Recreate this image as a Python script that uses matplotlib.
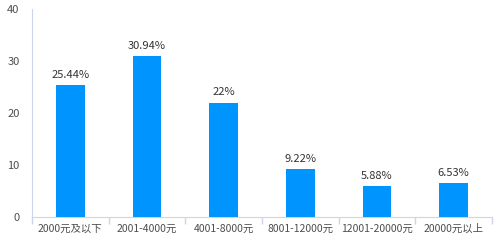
import matplotlib
matplotlib.use('Agg')
import matplotlib.pyplot as plt
import numpy as np

# Data
categories = ['2000元及以下', '2001-4000元', '4001-8000元', '8001-12000元', '12001-20000元', '20000元以上']
values = [25.44, 30.94, 22, 9.22, 5.88, 6.53]
value_labels = ['25.44%', '30.94%', '22%', '9.22%', '5.88%', '6.53%']
y_ticks = [0, 10, 20, 30, 40]

plt.rcParams['font.family'] = ['Noto Sans CJK SC', 'DejaVu Sans']

axis_color = '#ccd6eb'
text_color = '#4d4d4d'

fig = plt.figure(figsize=(5, 2.5), dpi=100)
ax = fig.add_axes([0.064, 0.132, 0.92, 0.832])

x = np.arange(len(categories))
ax.bar(x, values, width=0.37, color='#0094ff', zorder=3)

# Value labels above each bar
for xi, v, lab in zip(x, values, value_labels):
    ax.text(xi, v + 1.0, lab, ha='center', va='bottom', fontsize=8, color='#333333')

# Axis limits and ticks
ax.set_xlim(-0.5, len(categories) - 0.5)
ax.set_ylim(0, 40)
ax.set_yticks(y_ticks)
ax.set_xticks(x)
ax.set_xticklabels(categories)
ax.set_xticks(np.arange(len(categories) + 1) - 0.5, minor=True)

ax.tick_params(axis='y', length=0, labelsize=8, labelcolor=text_color, pad=9)
ax.tick_params(axis='x', which='major', length=0, labelsize=7.5, labelcolor=text_color, pad=5)
ax.tick_params(axis='x', which='minor', length=5, color=axis_color, width=1)

# Spines
for side in ['top', 'right']:
    ax.spines[side].set_visible(False)
ax.spines['left'].set_color(axis_color)
ax.spines['bottom'].set_color(axis_color)

fig.savefig('out.png', dpi=100)
